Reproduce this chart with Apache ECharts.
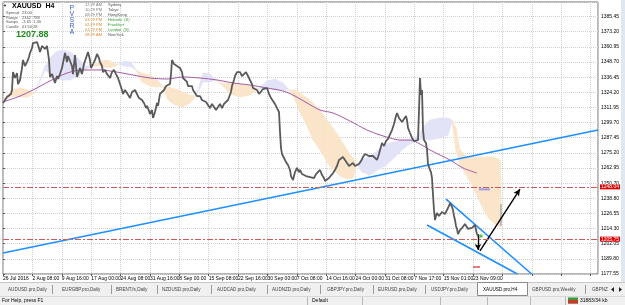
<!DOCTYPE html>
<html><head><meta charset="utf-8">
<script src="https://cdn.jsdelivr.net/npm/echarts@6/dist/echarts.min.js"></script>
<style>html,body{margin:0;padding:0;background:#fff;}#c{width:625px;height:305px;}</style>
</head><body><div id="c"></div>
<script>
// ---------------- DATA ----------------
const TIME_LABELS = ['26 Jul 2016','2 Aug 08:00','9 Aug 16:00','17 Aug 00:00','24 Aug 08:00','31 Aug 16:00','8 Sep 00:00','15 Sep 08:00','22 Sep 16:00','30 Sep 00:00','7 Oct 08:00','14 Oct 16:00','24 Oct 00:00','31 Oct 08:00','7 Nov 17:00','15 Nov 01:00','23 Nov 09:00'];
const PRICE_LABELS = ['1177.55','1189.80','1202.05','1214.30','1226.55','1238.80','1250.70','1262.95','1275.20','1287.45','1299.70','1311.95','1324.20','1336.45','1348.70','1360.95','1373.20','1385.45'];

// [bar index, close]
const PRICE_PATH = [[0,1315.9],[2,1318.3],[4,1320.7],[6,1319.1],[8,1323.2],[9,1326.4],[10,1340.9],[12,1336.1],[14,1340.1],[15,1331.2],[17,1334.5],[19,1344.2],[20,1350.7],[22,1345.8],[24,1349.0],[26,1353.1],[27,1356.3],[29,1360.4],[30,1364.4],[32,1362.8],[34,1365.2],[36,1360.4],[37,1357.1],[39,1362.0],[40,1363.6],[42,1359.6],[44,1362.0],[45,1363.6],[46,1350.7],[47,1336.9],[49,1339.3],[51,1334.5],[52,1332.1],[54,1337.7],[55,1335.3],[57,1339.3],[59,1344.2],[61,1352.3],[62,1356.3],[64,1349.0],[65,1353.9],[67,1353.1],[69,1345.8],[70,1339.3],[72,1354.7],[74,1336.9],[76,1341.8],[77,1344.2],[79,1339.3],[81,1347.4],[83,1352.3],[85,1357.1],[87,1350.7],[88,1344.2],[90,1347.4],[92,1350.7],[94,1355.5],[96,1352.3],[97,1349.0],[99,1345.8],[100,1340.9],[102,1342.6],[104,1339.3],[106,1337.7],[107,1336.1],[109,1340.9],[111,1342.6],[113,1339.3],[115,1336.1],[117,1331.2],[119,1326.4],[120,1323.2],[122,1326.4],[124,1324.0],[126,1322.4],[127,1319.9],[129,1324.8],[130,1323.2],[132,1326.4],[134,1324.8],[136,1319.9],[137,1321.5],[139,1318.3],[141,1315.9],[143,1311.8],[144,1313.5],[146,1309.4],[147,1307.0],[149,1310.2],[150,1303.8],[152,1308.6],[154,1315.9],[155,1313.5],[157,1323.2],[159,1324.8],[161,1326.4],[163,1329.6],[165,1328.0],[167,1331.2],[168,1339.3],[169,1350.7],[171,1347.4],[172,1349.0],[174,1345.8],[175,1347.4],[177,1344.2],[179,1340.9],[180,1336.1],[182,1334.5],[184,1332.9],[185,1329.6],[187,1328.0],[189,1329.6],[190,1326.4],[192,1324.8],[194,1321.5],[196,1319.9],[197,1321.5],[199,1318.3],[201,1319.9],[203,1316.7],[205,1315.1],[207,1311.8],[209,1315.1],[211,1313.5],[213,1310.2],[215,1311.8],[217,1315.1],[219,1311.8],[221,1315.1],[223,1315.9],[225,1318.3],[227,1318.3],[228,1324.8],[229,1329.6],[231,1334.5],[232,1337.7],[234,1340.9],[236,1339.3],[237,1340.9],[239,1337.7],[241,1339.3],[243,1340.9],[245,1337.7],[247,1336.1],[249,1331.2],[250,1328.0],[252,1326.4],[254,1326.4],[256,1323.2],[258,1324.8],[260,1327.2],[262,1326.4],[264,1328.0],[266,1323.2],[268,1319.9],[270,1318.3],[272,1315.1],[274,1311.8],[276,1308.6],[277,1292.4],[278,1279.5],[279,1274.6],[281,1271.4],[283,1268.1],[285,1265.7],[287,1261.7],[288,1256.8],[290,1253.6],[291,1256.8],[292,1260.0],[294,1263.3],[296,1260.0],[297,1261.7],[299,1258.4],[301,1259.2],[303,1256.8],[305,1258.4],[307,1256.0],[309,1255.2],[311,1255.2],[313,1258.4],[315,1260.0],[317,1261.7],[319,1257.6],[321,1255.2],[322,1252.8],[324,1251.2],[326,1255.2],[328,1256.8],[330,1259.2],[332,1261.7],[334,1264.9],[336,1269.8],[338,1271.4],[340,1272.2],[342,1269.8],[344,1267.3],[346,1264.9],[348,1266.5],[350,1267.3],[352,1264.9],[354,1264.1],[356,1266.5],[358,1268.9],[360,1272.2],[362,1274.6],[364,1276.2],[366,1273.0],[368,1271.4],[370,1273.0],[372,1271.4],[374,1269.8],[376,1274.6],[377,1277.9],[379,1283.5],[381,1281.1],[383,1285.1],[385,1286.8],[387,1288.4],[389,1294.0],[391,1298.9],[393,1305.4],[394,1307.8],[396,1303.8],[397,1305.4],[399,1300.5],[401,1302.1],[403,1305.4],[404,1302.1],[405,1295.7],[407,1291.6],[409,1287.6],[411,1285.1],[413,1283.5],[415,1285.9],[416,1310.2],[417,1336.1],[418,1322.4],[419,1326.4],[420,1294.0],[421,1285.9],[423,1283.5],[424,1277.9],[425,1266.5],[427,1261.7],[428,1260.0],[429,1255.2],[430,1241.5],[431,1229.3],[432,1221.2],[433,1224.5],[434,1226.9],[436,1224.5],[437,1223.7],[439,1227.7],[440,1229.3],[442,1226.1],[444,1227.7],[446,1232.6],[447,1235.0],[449,1231.8],[450,1229.3],[451,1224.5],[452,1221.2],[453,1216.4],[454,1214.0],[455,1209.9],[456,1211.5],[457,1213.1],[459,1214.8],[460,1216.4],[462,1218.0],[464,1218.8],[465,1214.0],[467,1215.6],[469,1214.8],[470,1214.0],[472,1217.2],[473,1213.1],[474,1209.9],[475,1207.88]];

// moving average (purple)
const MA_PATH = [[0,1316.7],[17,1321.5],[30,1326.4],[47,1333.7],[64,1340.1],[80,1342.6],[97,1342.6],[114,1340.9],[130,1338.5],[147,1336.1],[164,1335.3],[180,1336.9],[197,1336.1],[214,1334.5],[230,1332.1],[247,1330.4],[264,1328.0],[280,1325.6],[292,1321.5],[304,1315.9],[317,1310.2],[330,1307.8],[347,1301.3],[364,1294.0],[377,1290.0],[387,1287.6],[397,1285.9],[407,1285.9],[417,1282.7],[427,1277.9],[437,1273.8],[447,1269.8],[460,1263.3],[474,1259.2]];

// Ichimoku cloud: bar, upper span, lower span, tone (0 = sandy, 1 = thistle)
const CLOUD_BAR   = [0,9,17,25,32,42,47,53,59,67,75,82,89,97,105,113,116,121,128,133,139,147,154,160,165,172,180,187,193,200,207,213,220,227,237,247,255,264,272,280,286,292,297,304,310,317,324,330,337,344,350,354,359,367,375,383,391,399,407,415,421,427,437,445,449,453,457,463,469,475,481,487,493,497,498];
const CLOUD_UPPER = [1318.3,1326.4,1328.0,1326.4,1324.0,1345.8,1352.3,1357.1,1358.7,1357.1,1352.3,1345.8,1345.8,1349.8,1350.7,1347.4,1347.4,1349.8,1349.0,1342.6,1340.1,1338.5,1334.5,1329.6,1328.8,1327.2,1324.8,1322.4,1321.5,1340.1,1339.3,1334.5,1331.2,1332.1,1331.2,1329.6,1327.2,1333.7,1335.3,1332.1,1326.4,1326.4,1324.0,1319.9,1315.9,1310.2,1302.1,1295.7,1287.6,1277.9,1271.4,1266.5,1269.8,1273.0,1277.9,1282.7,1284.3,1285.9,1285.9,1289.2,1297.3,1302.1,1303.8,1303.8,1302.1,1295.7,1277.9,1273.0,1272.2,1272.2,1272.2,1272.2,1271.4,1269.8,1235.0];
const CLOUD_LOWER = [1318.3,1321.5,1320.7,1320.7,1324.0,1342.6,1339.3,1336.1,1334.5,1334.5,1337.7,1342.6,1345.8,1345.8,1344.2,1345.8,1347.4,1345.8,1345.0,1342.6,1332.9,1329.6,1328.8,1329.6,1318.3,1314.3,1312.7,1315.9,1321.5,1332.9,1332.9,1334.5,1329.6,1323.2,1320.7,1322.4,1327.2,1328.0,1326.4,1326.4,1326.4,1318.3,1308.6,1297.3,1285.9,1277.9,1268.1,1261.7,1256.8,1254.4,1255.2,1266.5,1260.0,1257.6,1261.7,1265.7,1271.4,1277.9,1282.7,1285.9,1286.8,1285.9,1287.6,1290.0,1300.5,1277.9,1265.7,1257.6,1249.5,1239.0,1228.5,1221.2,1217.2,1215.6,1215.6];
const CLOUD_TONE  = [0,0,0,0,1,1,1,1,1,1,1,1,0,0,0,0,1,1,1,0,0,0,0,0,0,0,0,0,1,1,1,0,0,0,0,0,1,1,1,1,0,0,0,0,0,0,0,0,0,0,0,1,1,1,1,1,1,1,1,1,1,1,1,1,0,0,0,0,0,0,0,0,0,0,0];
const CLOUD_EDGE  = [[498,1234.2],[498,1216.4]];

// drawn objects
const TRENDLINE   = [[0,1194.5],[595,1294.0]];
const WEDGE_UPPER = [[443,1238.2],[528.6,1177.55]];
const WEDGE_LOWER = [[424,1217.2],[514.4,1177.55]];
const ARROW_DOWN  = [[475,1209.6],[475,1197.0]];
const ARROW_UP    = [[477,1196.2],[517,1246.3]];
const LEVELS      = [1248.04, 1205.75];
const BID         = 1207.88;
const WAVE_TEXT   = ['1','2','3','4','5'];
const WAVE_BAR    = [428,448,453,474,474];
const WAVE_PRICE  = [1208.3,1241.5,1197.8,1223.7,1190.5];
const GREEN_DOT   = [478,1208.3];
const NOTE_TEXT   = ['Kijun','Kijun'];
const NOTE_BAR    = [481,476];
const NOTE_PRICE  = [1242.6,1179.8];
const NOTE_MARK_UPPER = [[476,1246.0],[487,1246.0]];
const NOTE_MARK_LOWER = [[470,1183.2],[477,1183.2]];

// panel texts
const INFO_ROWS = [['Spread','23.00'],['Range','2342  788'],['Swaps','-3.65  1.30'],['Candle','01:50:28']];
const SESSION_TIMES = ['12:29 AM','10:29 PM','08:29 PM','03:29 PM','02:29 PM','01:29 PM','08:29 AM'];
const SESSION_NAMES = ['Sydney','Tokyo','HongKong','Helsinki  (S)','Frankfurt','London  (S)','NewYork'];
const TAB_NAMES = ['AUDUSD.pro,Daily','EURGBP.pro,Daily','BRENT.fs,Daily','NZDUSD.pro,Daily','AUDCAD.pro,Daily','AUDNZD.pro,Daily','GBPJPY.pro,Daily','EURUSD.pro,Daily','USDJPY.pro,Daily','XAUUSD.pro,H4','GBPUSD.pro,Weekly','GBPNZ'];

// ---------------- CHART ----------------
const FONT = 'Liberation Sans, Arial, sans-serif';
const X_MAX = 595, Y_MIN = 1177.55, Y_MAX = 1397.58, TIME_STEP = 29.375, PRICE_STEP = 12.25;
const GRID = {left:3, right:27, top:2, bottom:31};

const chart = echarts.init(document.getElementById('c'), null, {renderer:'canvas', width:625, height:305});

function T(x, y, text, o) {
  o = o || {};
  return {type:'text', x:x, y:y, silent:true, z:o.z || 10, style:{text:text, fill:o.fill || '#000', fontSize:o.size || 5, fontFamily:FONT, fontWeight:o.weight || 'normal', align:o.align || 'left', verticalAlign:'middle'}};
}
const graphics = [];
graphics.push({type:'rect', shape:{x:621, y:0, width:4, height:282}, style:{fill:'#dfe8f1'}, silent:true});
graphics.push({type:'rect', shape:{x:0, y:282, width:625, height:14}, style:{fill:'#f0f0f0'}, silent:true});
graphics.push({type:'line', shape:{x1:0, y1:282.5, x2:625, y2:282.5}, style:{stroke:'#c8c8c8', lineWidth:1}, silent:true});
graphics.push({type:'rect', shape:{x:0, y:296, width:625, height:9}, style:{fill:'#f0f0f0'}, silent:true});
graphics.push({type:'line', shape:{x1:0, y1:296.5, x2:625, y2:296.5}, style:{stroke:'#d8d8d8', lineWidth:1}, silent:true});
const tabX = [8,62,116,162,217,272,327,378,431,483,532,592];
graphics.push({type:'rect', shape:{x:477.5, y:282.5, width:50, height:13}, style:{fill:'#fff', stroke:'#8a8a8a', lineWidth:1}, silent:true, z:9});
TAB_NAMES.forEach((n,i) => graphics.push(T(tabX[i], 289.5, n, {size:4.6, fill: i===9 ? '#000' : '#444'})));
[52,111,157,211,267,320,373,425,585].forEach(x => graphics.push({type:'line', shape:{x1:x+0.5, y1:285, x2:x+0.5, y2:294}, style:{stroke:'#9a9a9a', lineWidth:1}, silent:true}));
graphics.push({type:'polygon', shape:{points:[[614,287],[614,292],[611,289.5]]}, style:{fill:'#222'}, silent:true});
graphics.push({type:'polygon', shape:{points:[[619,287],[619,292],[622,289.5]]}, style:{fill:'#222'}, silent:true});
graphics.push(T(2, 301, 'For Help, press F1', {size:5}));
graphics.push(T(312, 301, 'Default', {size:5}));
[307,362,440,487,530,565].forEach(x => graphics.push({type:'line', shape:{x1:x+0.5, y1:297, x2:x+0.5, y2:305}, style:{stroke:'#b8b8b8', lineWidth:1}, silent:true}));
graphics.push({type:'rect', shape:{x:568, y:297.5, width:10, height:6}, style:{fill:'#3a9a3a'}, silent:true});
graphics.push({type:'rect', shape:{x:568, y:300, width:10, height:3.5}, style:{fill:'#c83a2a'}, silent:true});
graphics.push(T(580, 301, '31883/34 kb', {size:5}));
// info panel
graphics.push(T(3, 6, '\u25BC', {size:4}));
graphics.push(T(12, 6.5, 'XAUUSD  H4', {size:7, weight:'bold'}));
INFO_ROWS.forEach((r,i) => { graphics.push(T(6, 13 + i*4.5, r[0], {size:4, fill:'#555'})); graphics.push(T(22, 13 + i*4.5, r[1], {size:4, fill:'#555'})); });
graphics.push(T(16, 34.5, '1207.88', {size:9, weight:'bold', fill:'#1e8c1e'}));
['P','V','S','R','A'].forEach((c,i) => graphics.push(T(72, 8 + i*6, c, {size:6.5, fill:'#3552c0', align:'center'})));
SESSION_TIMES.forEach((t,i) => {
  const on = i >= 3;
  graphics.push(T(85, 5 + i*5, t, {size:4, fill: on ? '#d9862e' : '#777'}));
  graphics.push(T(108, 5 + i*5, SESSION_NAMES[i], {size:4, fill: (on && i < 6) ? '#2e9e2e' : '#555'}));
});

const dotted = {show:true, lineStyle:{color:'#d0d0d0', type:'dotted', width:1}};
function lbl(arr) { return v => { const k = Math.round(v); return (Math.abs(v-k) < 0.01 && arr[k] !== undefined) ? arr[k] : ''; }; }

const option = {
  animation:false,
  backgroundColor:'#fff',
  grid:{left:GRID.left, right:GRID.right, top:GRID.top, bottom:GRID.bottom, show:true, borderColor:'#6e6e6e', borderWidth:1, backgroundColor:'#fff'},
  xAxis:[
    {type:'value', min:0, max:X_MAX, show:false},
    {type:'value', min:0, max:X_MAX/TIME_STEP, interval:1, position:'bottom',
     axisLine:{show:false}, axisTick:{show:true, length:2, lineStyle:{color:'#555'}},
     axisLabel:{fontSize:5, fontFamily:FONT, color:'#000', align:'left', margin:2, showMaxLabel:false, formatter:lbl(TIME_LABELS)},
     splitLine:dotted}
  ],
  yAxis:[
    {type:'value', min:Y_MIN, max:Y_MAX, show:false},
    {type:'value', min:0, max:(Y_MAX-Y_MIN)/PRICE_STEP, interval:1, position:'right',
     axisLine:{show:false}, axisTick:{show:true, length:2, lineStyle:{color:'#555'}},
     axisLabel:{fontSize:5, fontFamily:FONT, color:'#000', margin:3, showMaxLabel:false, formatter:lbl(PRICE_LABELS)},
     splitLine:dotted}
  ],
  graphic:graphics,
  series:[
    {type:'custom', name:'cloud', xAxisIndex:0, yAxisIndex:0, z:1, silent:true, clip:true,
     data: CLOUD_BAR.slice(0,-1).map((b,i) => [b, CLOUD_UPPER[i], i]),
     renderItem:(params, api) => {
       const i = api.value(2);
       const pts = [api.coord([CLOUD_BAR[i], CLOUD_UPPER[i]]), api.coord([CLOUD_BAR[i+1], CLOUD_UPPER[i+1]]),
                    api.coord([CLOUD_BAR[i+1], CLOUD_LOWER[i+1]]), api.coord([CLOUD_BAR[i], CLOUD_LOWER[i]])];
       const col = CLOUD_TONE[i] ? '#e3e3f7' : '#fae5cb';
       return {type:'polygon', shape:{points:pts}, style:{fill:col, stroke:col, lineWidth:0.7}};
     }},
    {type:'line', name:'cloudEdge', data:CLOUD_EDGE, showSymbol:false, z:2, lineStyle:{color:'#8a8a8a', width:1}},
    {type:'line', name:'ma', data:MA_PATH, showSymbol:false, smooth:0.3, z:3, lineStyle:{color:'#a55aa5', width:1}},
    {type:'line', name:'trend', data:TRENDLINE, showSymbol:false, z:4, lineStyle:{color:'#1e8fff', width:1.6}},
    {type:'line', name:'wedgeUp', data:WEDGE_UPPER, showSymbol:false, z:4, lineStyle:{color:'#1e8fff', width:1.6}},
    {type:'line', name:'wedgeLo', data:WEDGE_LOWER, showSymbol:false, z:4, lineStyle:{color:'#1e8fff', width:1.6}},
    {type:'line', name:'markUp', data:NOTE_MARK_UPPER, showSymbol:false, z:4, lineStyle:{color:'#a79be0', width:2}},
    {type:'line', name:'markLo', data:NOTE_MARK_LOWER, showSymbol:false, z:4, lineStyle:{color:'#e05050', width:1.5}},
    {type:'line', name:'price', data:PRICE_PATH, showSymbol:false, z:5, lineStyle:{color:'#5a5a5a', width:1.8},
     markLine:{silent:true, symbol:['none','none'], animation:false,
       data:[
         [{coord:ARROW_DOWN[0], symbol:'none', lineStyle:{color:'#000', width:1.4, type:'solid'}, label:{show:false}}, {coord:ARROW_DOWN[1], symbol:'arrow', symbolSize:[5,6]}],
         [{coord:ARROW_UP[0], symbol:'none', lineStyle:{color:'#000', width:1.4, type:'solid'}, label:{show:false}}, {coord:ARROW_UP[1], symbol:'arrow', symbolSize:[5,7]}],
         ...LEVELS.map(v => ({yAxis:v, lineStyle:{color:'#d05a5a', width:1, type:[6,2,2,2]}, label:{show:true, position:'end', distance:2, formatter:v.toFixed(2), backgroundColor:'#e00000', color:'#fff', fontSize:5, fontFamily:FONT, padding:[0,1]}})),
         {yAxis:BID, lineStyle:{opacity:0}, label:{show:true, position:'end', distance:2, offset:[0,-1.5], formatter:BID.toFixed(2), backgroundColor:'#000', color:'#fff', fontSize:5, fontFamily:FONT, padding:[0,1]}}
       ]}},
    {type:'scatter', name:'waves', z:6, symbolSize:1, itemStyle:{opacity:0},
     data: WAVE_BAR.map((b,i) => ({value:[b, WAVE_PRICE[i]], label:{show:true, position:'inside', formatter:WAVE_TEXT[i], fontSize:6.5, fontFamily:FONT, color:'#222'}}))},
    {type:'scatter', name:'notes', z:6, symbolSize:1, itemStyle:{opacity:0},
     data: NOTE_BAR.map((b,i) => ({value:[b, NOTE_PRICE[i]], label:{show:true, position:'inside', formatter:NOTE_TEXT[i], fontSize:4, fontFamily:FONT, color: i === 0 ? '#7a5fa6' : '#555'}}))},
    {type:'scatter', name:'dot', z:6, symbol:'rect', symbolSize:3, itemStyle:{color:'#22b022'}, data:[GREEN_DOT]}
  ]
};
chart.setOption(option);
</script>
</body></html>
